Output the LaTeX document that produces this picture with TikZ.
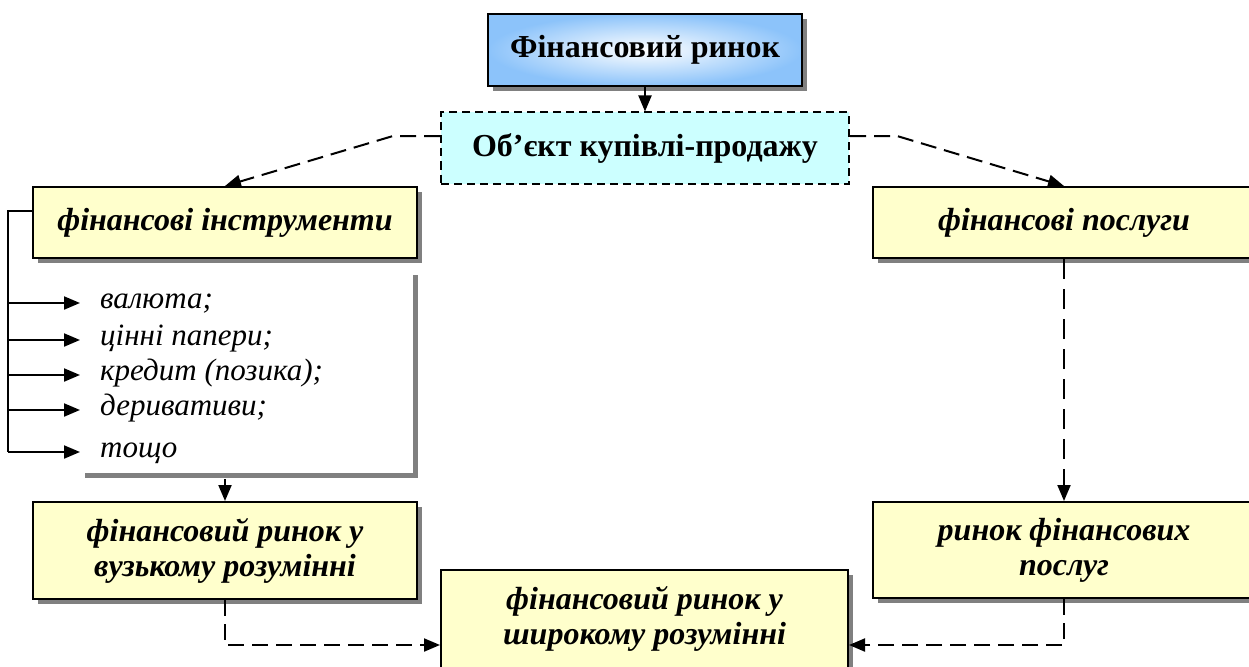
\documentclass[tikz,border=0pt]{standalone}
\usepackage{fontspec}
\setmainfont{Liberation Serif}
\usetikzlibrary{arrows.meta,shadows}
\definecolor{boxyellow}{RGB}{255,255,204}
\definecolor{boxcyan}{RGB}{204,255,255}
\definecolor{boxblue}{RGB}{140,195,250}
\definecolor{shadowgray}{RGB}{128,128,128}
\tikzset{
  hardshadow/.style={drop shadow={shadow xshift=5pt,shadow yshift=-5pt,opacity=1,fill=shadowgray}},
  ybox/.style={rectangle,draw=black,line width=2pt,fill=boxyellow,hardshadow,
    align=center,inner sep=0pt,font=\fontsize{32}{35}\selectfont\bfseries\itshape},
  topbox/.style={rectangle,draw=black,line width=2pt,hardshadow,
    inner color=white,outer color=boxblue,
    align=center,inner sep=0pt,font=\fontsize{32}{35}\selectfont\bfseries},
  dbox/.style={rectangle,draw=black,line width=2pt,dash pattern=on 8pt off 5pt,fill=boxcyan,
    align=center,inner sep=0pt,font=\fontsize{32}{35}\selectfont\bfseries},
  listbox/.style={rectangle,draw=none,fill=white,hardshadow,inner sep=0pt},
  item/.style={anchor=base west,inner sep=0pt,font=\fontsize{31}{36}\selectfont\itshape},
  solidarrow/.style={line width=2pt,-{Triangle[length=16pt,width=13pt]}},
  dasharrow/.style={line width=2pt,dash pattern=on 16pt off 8pt,-{Triangle[length=16pt,width=13pt]}},
  vdasharrow/.style={line width=2pt,dash pattern=on 20pt off 10pt,-{Triangle[length=16pt,width=13pt]}},
}
\begin{document}
\begin{tikzpicture}[x=1pt,y=-1pt]
\useasboundingbox (0,0) rectangle (1249,666);
\clip (0,0) rectangle (1249,666);

% boxes
\node[topbox,minimum width=314pt,minimum height=72pt] (fr) at (645,50) {Фінансовий ринок};
\node[dbox,minimum width=408pt,minimum height=71pt] (obj) at (645,148) {Об’єкт купівлі-продажу};
\node[ybox,minimum width=384pt,minimum height=71pt] (fi) at (225,222.5) {фінансові інструменти};
\node[ybox,minimum width=382pt,minimum height=71pt] (fp) at (1064,222.5) {фінансові послуги};
\node[listbox,minimum width=333pt,minimum height=203pt] (lst) at (246.5,371.5) {};
\node[ybox,minimum width=384pt,minimum height=97pt] (nar) at (225,550.5) {фінансовий ринок у\\ вузькому розумінні};
\node[ybox,minimum width=382pt,minimum height=96pt] (rfp) at (1064,550) {ринок фінансових\\ послуг};
\node[ybox,minimum width=407pt,minimum height=98pt] (wide) at (644.5,619) {фінансовий ринок у\\ широкому розумінні};

% list of instruments
\coordinate (br1) at (8,211);
\coordinate (br2) at (8,452);
\foreach \y/\t [count=\i] in {303/{валюта;},340/{цінні папери;},375/{кредит (позика);},410/{деривативи;},452/{тощо}}{
  \coordinate (tip\i) at (80,\y);
  \node[item] (it\i) at (100,\y+5) {\t};
}
\draw[line width=2pt] (fi.west |- br1) -- (br1) -- (br2);
\foreach \i/\y in {1/303,2/340,3/375,4/410,5/452}{
  \draw[solidarrow] (8,\y) -- (tip\i);
}

% connectors
\draw[solidarrow] (fr.south) -- (obj.north);
\coordinate (lbend) at (393,136);
\coordinate (rbend) at (897,136);
\draw[dasharrow] (obj.west |- lbend) -- (lbend) -- (fi.north);
\draw[dasharrow] (obj.east |- rbend) -- (rbend) -- (fp.north);
\draw[solidarrow] (225,479) -- (nar.north);
\draw[vdasharrow] (fp.south) -- (rfp.north);
\coordinate (lcorner) at (225,645);
\coordinate (rcorner) at (1064,645);
\draw[dasharrow] (nar.south) -- (lcorner) -- (wide.west |- lcorner);
\draw[dasharrow] (rfp.south) -- (rcorner) -- (wide.east |- rcorner);
\end{tikzpicture}
\end{document}
